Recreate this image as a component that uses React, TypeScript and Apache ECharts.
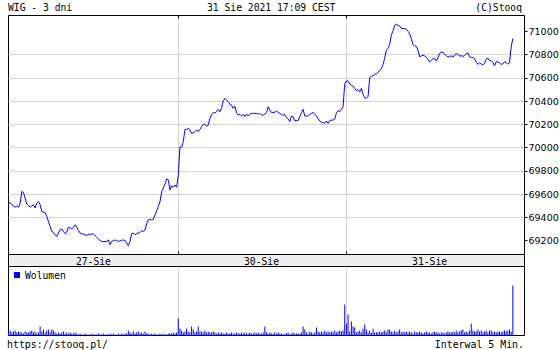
import React, { useEffect, useRef } from "react";
import * as echarts from "echarts";

// ---- data ----
const dayLabels = ["27-Sie", "30-Sie", "31-Sie"];
const dayLabelSlots = [51, 152, 253];
const dayBreakSlots = [102, 203];
const slotCount = 311;
const yTicks = [69200, 69400, 69600, 69800, 70000, 70200, 70400, 70600, 70800, 71000];

const priceDay1 = [
  69525,
  69522, 69513, 69493, 69487, 69498, 69484, 69522, 69622, 69613, 69565,
  69513, 69501, 69487, 69498, 69507, 69479, 69522, 69536, 69507, 69450,
  69444, 69441, 69407, 69364, 69321, 69278, 69270, 69249, 69235, 69264,
  69292, 69298, 69278, 69258, 69270, 69315, 69307, 69298, 69313, 69335,
  69315, 69286, 69264, 69258, 69256, 69249, 69241, 69256, 69249, 69256,
  69258, 69241, 69227, 69212, 69200, 69191, 69191, 69191, 69191, 69206,
  69163, 69191, 69200, 69203, 69200, 69191, 69197, 69203, 69203, 69200,
  69177, 69154, 69191, 69258, 69264, 69249, 69258, 69264,
  69268, 69285, 69277, 69291, 69343, 69377, 69383, 69377, 69383, 69420,
  69455, 69492, 69535, 69620, 69650, 69685, 69730, 69722, 69635, 69670,
  69658, 69678, 69658, 69760,
];

const priceDay2 = [
  70005, 70005, 70050, 70155, 70157, 70166,
  70152, 70123, 70128, 70137, 70152, 70137, 70157, 70180, 70200, 70200,
  70186, 70195, 70252, 70286, 70300, 70300, 70309, 70329, 70309, 70338,
  70403, 70424, 70409, 70395, 70375, 70366, 70338, 70358, 70300, 70280,
  70286, 70271, 70286, 70266, 70289, 70271, 70289, 70295, 70295, 70295,
  70295, 70289, 70295, 70280, 70280, 70289, 70300,
  70352, 70323, 70303, 70303, 70303, 70318, 70303, 70295, 70285, 70280,
  70283, 70260, 70248, 70223, 70272, 70265, 70231, 70233, 70233, 70266,
  70300, 70329, 70272, 70272, 70272, 70285, 70295, 70303, 70289, 70272,
  70252, 70229, 70220, 70214, 70209, 70229, 70209, 70231, 70237, 70237,
  70246, 70300, 70318, 70309, 70329, 70352, 70547,
];

const priceDay3 = [
  70575, 70573, 70547, 70538, 70530, 70510, 70489, 70501, 70481, 70510,
  70460, 70430, 70424, 70440, 70600, 70616, 70620, 70633, 70633, 70650,
  70661, 70682, 70715, 70770,
  70840, 70854, 70888, 70968, 71006, 71054, 71063, 71054, 71048, 71026,
  71026, 71026, 71020, 71003, 70980, 70940, 70888, 70876, 70871, 70840,
  70782, 70790, 70796, 70790, 70779, 70759, 70739, 70750, 70768, 70765,
  70745, 70773, 70811, 70825, 70819, 70808, 70793, 70782, 70782, 70790,
  70779, 70796, 70808, 70805, 70787, 70793, 70785, 70793, 70808, 70816,
  70782, 70776, 70776, 70765, 70736, 70716, 70730, 70719, 70713, 70727,
  70762, 70771, 70750, 70750, 70733, 70705, 70739, 70739, 70730, 70716,
  70722, 70739, 70733, 70719, 70730, 70868, 70940,
];

const volDay1 = [
  12, 15, 9, 12, 15, 9, 12, 10, 9, 6,
  12, 9, 9, 12, 15, 9, 12, 6, 9, 27,
  12, 18, 9, 15, 18, 9, 18, 15, 9, 6,
  9, 6, 9, 12, 6, 9, 6, 9, 6, 6,
  9, 6, 3, 6, 3, 3, 6, 3, 3, 3,
  6, 3, 3, 3, 6, 3, 3, 6, 3, 3,
  3, 6, 3, 6, 3, 3, 6, 3, 6, 3,
  6, 6, 15, 9, 6, 12, 6, 9, 12, 6,
  9, 6, 12, 6, 6, 3, 6, 3, 6, 3,
  3, 6, 3, 6, 3, 3, 6, 6, 6, 9,
  6, 9, 51,
];

const volDay2 = [
  21, 15, 9, 12, 21, 12, 9, 27, 18, 9,
  12, 27, 12, 12, 9, 15, 9, 12, 9, 9,
  12, 9, 6, 9, 6, 9, 6, 6, 9, 6,
  6, 9, 6, 6, 9, 6, 6, 9, 6, 9,
  6, 6, 9, 6, 6, 9, 6, 9, 6, 6,
  9, 27, 9, 6, 9, 6, 6, 9, 6, 9,
  6, 6, 3, 6, 6, 9, 3, 6, 9, 6,
  6, 6, 6, 9, 27, 18, 9, 6, 12, 9,
  6, 9, 24, 12, 9, 12, 9, 15, 9, 12,
  9, 12, 9, 15, 9, 12, 15, 12, 15, 93,
];

const volDay3 = [
  36, 63, 12, 42, 27, 24, 9, 12, 15, 9,
  20, 33, 18, 9, 15, 8, 20, 9, 10, 9,
  12, 9, 12, 15, 9, 18, 18, 12, 9, 15,
  9, 12, 18, 9, 12, 9, 12, 9, 12, 9,
  6, 12, 9, 9, 12, 9, 6, 9, 12, 9,
  9, 6, 9, 12, 9, 9, 6, 9, 9, 6,
  9, 12, 9, 9, 12, 9, 15, 9, 12, 15,
  18, 9, 12, 9, 15, 36, 15, 12, 12, 18,
  12, 15, 9, 12, 15, 9, 15, 15, 9, 12,
  9, 12, 12, 9, 12, 15, 12, 15, 18, 12,
  150,
];

const prices = [...priceDay1, ...priceDay2, ...priceDay3];
const volumes = [...volDay1, ...volDay2, ...volDay3];
const slots = Array.from({ length: slotCount }, (_, i) => String(i));

const mono = "'DejaVu Sans Mono', monospace";
const gridGray = "#d3d3d3";
const blue = "#0000ff";

export default function App() {
  const ref = useRef<HTMLDivElement>(null);

  useEffect(() => {
    if (!ref.current) return;
    const chart = echarts.init(ref.current, null, { renderer: "svg" });
    const isBreak = (i: number) => dayBreakSlots.indexOf(i) >= 0;
    const isLabel = (i: number) => dayLabelSlots.indexOf(i) >= 0;
    const txt = {
      fontFamily: mono,
      fontSize: 9.7,
      fontWeight: "normal" as const,
      color: "#000",
    };
    chart.setOption({
      animation: false,
      backgroundColor: "#fff",
      title: [
        { text: "WIG - 3 dni", left: 8, top: 2, padding: 0, textStyle: txt },
        { text: "31 Sie 2021 17:09 CEST", left: 207, top: 2, padding: 0, textStyle: txt },
        { text: "(C)Stooq", right: 38, top: 2, padding: 0, textStyle: txt },
        { text: "https://stooq.pl/", left: 7, top: 339, padding: 0, textStyle: { ...txt, fontSize: 9.9 } },
        { text: "Interwal 5 Min.", right: 36, top: 339, padding: 0, textStyle: { ...txt, fontSize: 9.9 } },
      ],
      legend: {
        data: ["Wolumen"],
        left: 14,
        top: 270,
        padding: 0,
        icon: "rect",
        itemWidth: 6,
        itemHeight: 6,
        selectedMode: false,
        textStyle: { fontFamily: mono, fontSize: 9.7, color: "#000" },
      },
      grid: [
        {
          left: 8.5, top: 15.5, width: 516, height: 239,
          show: true, borderColor: "#000", borderWidth: 1,
          outerBoundsMode: "none", containLabel: false,
        },
        {
          left: 8.5, top: 266.5, width: 516, height: 69,
          show: true, borderColor: "#000", borderWidth: 1,
          outerBoundsMode: "none", containLabel: false,
        },
      ],
      xAxis: [
        {
          type: "category", gridIndex: 0, data: slots, boundaryGap: false,
          axisLine: { show: false },
          axisTick: { show: true, inside: true, length: 3, interval: isBreak, lineStyle: { color: "#000" } },
          splitLine: { show: true, interval: isBreak, lineStyle: { color: gridGray } },
          axisLabel: {
            show: true, interval: isLabel, margin: 2,
            formatter: (_v: string, idx: number) => dayLabels[dayLabelSlots.indexOf(idx)] || "",
            fontFamily: mono, fontSize: 9.7, color: "#000",
          },
        },
        {
          type: "category", gridIndex: 0, position: "top", data: slots, boundaryGap: false,
          axisLine: { show: false },
          axisTick: { show: true, inside: true, length: 3, interval: isBreak, lineStyle: { color: "#000" } },
          axisLabel: { show: false },
          splitLine: { show: false },
        },
        {
          type: "category", gridIndex: 1, data: slots, boundaryGap: false,
          axisLine: { show: false },
          axisTick: { show: false },
          axisLabel: { show: false },
          splitLine: { show: true, interval: isBreak, lineStyle: { color: gridGray } },
        },
      ],
      yAxis: [
        {
          type: "value", gridIndex: 0, position: "right",
          min: 69079, max: 71138, splitNumber: 10, scale: true,
          axisLine: { show: false },
          axisTick: { show: true, length: 3, customValues: yTicks, lineStyle: { color: "#000" } },
          axisLabel: {
            customValues: yTicks, margin: 4,
            formatter: (v: number) => String(Math.round(v)),
            fontFamily: "'DejaVu Sans', sans-serif", fontSize: 9.5, color: "#000",
          },
          splitLine: { show: true, showMinLine: false, showMaxLine: false, lineStyle: { color: gridGray } },
        },
        {
          type: "value", gridIndex: 1, min: 0, max: 207, show: false,
          splitLine: { show: false },
        },
      ],
      series: [
        {
          name: "WIG", type: "line", xAxisIndex: 0, yAxisIndex: 0,
          data: prices, showSymbol: false, symbol: "none",
          lineStyle: { color: blue, width: 1 }, itemStyle: { color: blue },
        },
        {
          name: "Wolumen", type: "bar", xAxisIndex: 2, yAxisIndex: 1,
          data: volumes, barWidth: 1, itemStyle: { color: blue },
        },
      ],
      graphic: [
        {
          type: "rect", z: -10, silent: true,
          shape: { x: 8.5, y: 254.5, width: 516, height: 12 },
          style: { fill: "#eeeeee", stroke: "#000", lineWidth: 1 },
        },
      ],
    });
    return () => chart.dispose();
  }, []);

  return (
    <div
      ref={ref}
      style={{ position: "fixed", left: 0, top: 0, width: 560, height: 350, background: "#fff" }}
    />
  );
}
